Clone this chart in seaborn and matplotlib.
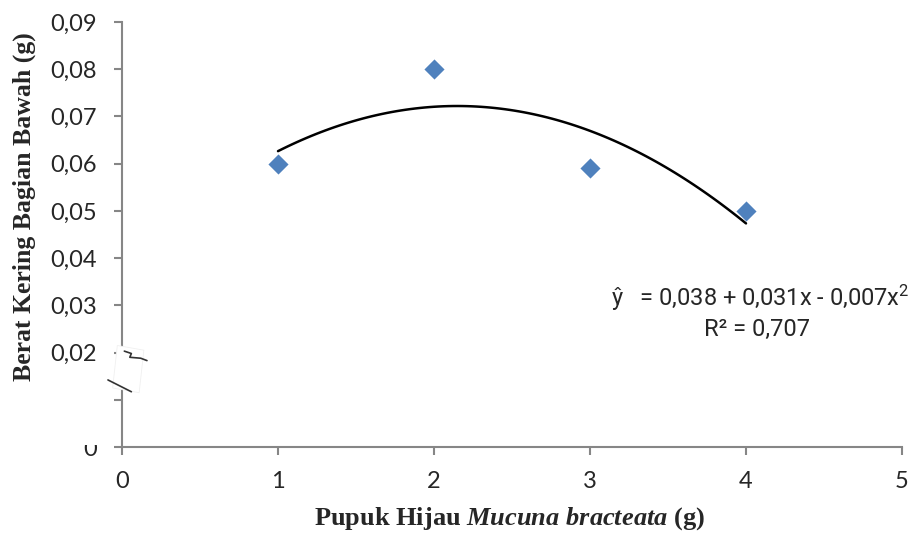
import numpy as np
import pandas as pd
import seaborn as sns
import matplotlib.pyplot as plt
from matplotlib.patches import Polygon, Rectangle

# Data
pupuk = [1, 2, 3, 4]
berat = [0.060, 0.080, 0.059, 0.050]
y_ticks = [0, 0.01, 0.02, 0.03, 0.04, 0.05, 0.06, 0.07, 0.08, 0.09]
y_ticklabels = ["0", "", "0,02", "0,03", "0,04", "0,05", "0,06", "0,07", "0,08", "0,09"]
x_ticks = [0, 1, 2, 3, 4, 5]
x_ticklabels = ["0", "1", "2", "3", "4", "5"]

df = pd.DataFrame({"pupuk": pupuk, "berat": berat})

sns.set_style("white")
plt.rcParams["font.family"] = ["Lato", "DejaVu Sans"]
plt.rcParams["mathtext.fontset"] = "custom"
plt.rcParams["mathtext.it"] = "Liberation Serif:italic:bold"
plt.rcParams["mathtext.rm"] = "Liberation Serif:bold"

fig = plt.figure(figsize=(9.14, 5.33), dpi=100)
ax = fig.add_axes([122 / 914, 1 - 447 / 533, 780 / 914, 425 / 533])

gray = "#868686"
blue = "#4F81BD"

# titik data + garis tren polinomial orde 2
sns.regplot(data=df, x="pupuk", y="berat", order=2, ci=None, marker="D",
            scatter_kws={"s": 105, "color": blue, "alpha": 1, "zorder": 3, "linewidths": 0},
            line_kws={"color": "black", "lw": 1.8, "zorder": 2}, ax=ax)

ax.set_xlim(0, 5)
ax.set_ylim(0, 0.09)
ax.set_xticks(x_ticks)
ax.set_xticklabels(x_ticklabels, fontsize=17)
ax.set_yticks(y_ticks)
ax.set_yticklabels(y_ticklabels, fontsize=17)

for s in ["top", "right"]:
    ax.spines[s].set_visible(False)
for s in ["left", "bottom"]:
    ax.spines[s].set_color(gray)
    ax.spines[s].set_linewidth(1.5)
ax.tick_params(axis="both", direction="out", length=6, width=1.5, color=gray,
               left=True, bottom=True)
ax.tick_params(axis="x", pad=11)
ax.tick_params(axis="y", pad=12)

ax.set_xlabel("Pupuk Hijau $Mucuna\\ bracteata$ (g)", fontsize=19,
              fontweight="bold", family="Liberation Serif")
ax.xaxis.set_label_coords(0.497, -0.137)
ax.set_ylabel("Berat Kering Bagian Bawah (g)", fontsize=18.5, fontweight="bold",
              family="Liberation Serif")
ax.yaxis.set_label_coords(-0.11, 0.565)

# persamaan regresi
ax.text(1.01, 0.35, "ŷ   = 0,038 + 0,031x - 0,007x$\\mathregular{^2}$", transform=ax.transAxes,
        ha="right", va="center", fontsize=17, family="Roboto")
ax.text(0.814, 0.276, "R² = 0,707", transform=ax.transAxes,
        ha="center", va="center", fontsize=17, family="Roboto")

# tanda patahan sumbu y
brk = Polygon([(-0.012, 0.0125), (0.022, 0.0115), (0.028, 0.0205), (-0.006, 0.0215)],
              closed=True, facecolor="white", edgecolor="#f0f0f0", lw=0.6,
              clip_on=False, zorder=5)
brk.set_transform(ax.get_yaxis_transform())
ax.add_patch(brk)
ax.plot([-0.018, 0.012], [0.0142, 0.0117], color="#333333", lw=1.2,
        transform=ax.get_yaxis_transform(), clip_on=False, zorder=6)
ax.plot([0.003, 0.012, 0.010, 0.024, 0.032], [0.0203, 0.0198, 0.0190, 0.0188, 0.0183],
        color="#333333", lw=1.2, transform=ax.get_yaxis_transform(), clip_on=False, zorder=6)

# label "0" terpotong sebagian
fig.patches.append(Rectangle((78 / 914, 1 - 445 / 533), 26 / 914, 16 / 533,
                             transform=fig.transFigure, facecolor="white",
                             edgecolor="none", zorder=10))

fig.savefig("out.png", dpi=100)
